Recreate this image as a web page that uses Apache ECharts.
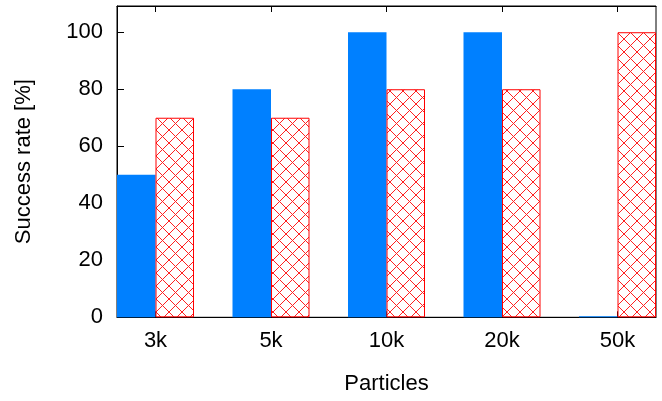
<!DOCTYPE html>
<html>
<head>
<meta charset="utf-8">
<script src="https://cdn.jsdelivr.net/npm/echarts@6/dist/echarts.min.js"></script>
<style>
html,body{margin:0;padding:0;background:#fff;}
#chart{width:662px;height:401px;}
</style>
</head>
<body>
<div id="chart"></div>
<script>
const categories = ['3k', '5k', '10k', '20k', '50k'];
const seriesA = [50, 80, 100, 100, 0];
const seriesB = [70, 70, 80, 80, 100];
const yTicks = [0, 20, 40, 60, 80, 100];

const catIdx = categories.map((c, i) => i);

function hatch() {
  const s = 13;
  const c = document.createElement('canvas');
  c.width = s * 3; c.height = s * 3;
  const g = c.getContext('2d');
  g.fillStyle = '#ffffff';
  g.fillRect(0, 0, c.width, c.height);
  g.strokeStyle = '#ff2020';
  g.lineWidth = 1;
  g.beginPath();
  for (let k = -3; k <= 3; k++) {
    g.moveTo(k * s, 0); g.lineTo(k * s + 3 * s, 3 * s);
    g.moveTo(k * s + 3 * s, 0); g.lineTo(k * s, 3 * s);
  }
  g.stroke();
  return c;
}

const font = "'Liberation Sans', Arial, Helvetica, sans-serif";
const fs = 22;
const chart = echarts.init(document.getElementById('chart'), null, {renderer: 'canvas'});
const xBase = {
  type: 'value', min: -1/3, max: 4 + 1/3,
  splitLine: {show: false},
  axisLine: {show: true, onZero: false, lineStyle: {color: '#000', width: 1}},
  axisTick: {show: true, inside: true, length: 6, lineStyle: {color: '#000'}, customValues: catIdx}
};
chart.setOption({
  animation: false,
  backgroundColor: '#fff',
  textStyle: {fontFamily: font},
  grid: {left: 117, right: 6, top: 6, bottom: 83.7, show: true, borderColor: '#000', borderWidth: 1, backgroundColor: 'transparent'},
  xAxis: [
    Object.assign({}, xBase, {
      position: 'bottom',
      axisLabel: {show: true, customValues: catIdx, formatter: v => categories[Math.round(v)], fontSize: fs, color: '#000', margin: 13, fontFamily: font},
      name: 'Particles', nameLocation: 'middle', nameGap: 56,
      nameTextStyle: {fontSize: fs, color: '#000', fontFamily: font}
    }),
    Object.assign({}, xBase, {
      position: 'top',
      axisLabel: {show: false}
    })
  ],
  yAxis: {
    type: 'value', min: 0, max: 109.2, interval: 20,
    splitLine: {show: false},
    axisLine: {show: true, onZero: false, lineStyle: {color: '#000'}},
    axisTick: {show: true, inside: true, length: 7, lineStyle: {color: '#000'}, customValues: yTicks},
    axisLabel: {customValues: yTicks, fontSize: fs, color: '#000', margin: 14, fontFamily: font},
    name: 'Success rate [%]', nameLocation: 'middle', nameGap: 82,
    nameTextStyle: {fontSize: fs, color: '#000', fontFamily: font}
  },
  series: [
    {
      type: 'bar', xAxisIndex: 0,
      data: seriesA.map((v, i) => [i, v]),
      barWidth: 38.5, barGap: '0%', barMinHeight: 1,
      itemStyle: {color: '#0080ff'}
    },
    {
      type: 'bar', xAxisIndex: 0,
      data: seriesB.map((v, i) => [i, v]),
      barWidth: 38.5, barGap: '0%',
      itemStyle: {color: {image: hatch(), repeat: 'repeat'}, borderColor: '#ff0000', borderWidth: 1}
    }
  ]
});
</script>
</body>
</html>
